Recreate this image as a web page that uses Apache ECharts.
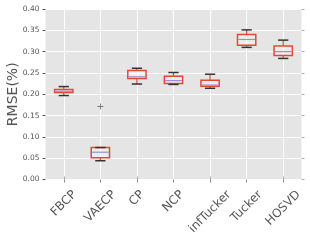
<!DOCTYPE html>
<html>
<head>
<meta charset="utf-8">
<script src="https://cdn.jsdelivr.net/npm/echarts@6/dist/echarts.min.js"></script>
<style>
html,body{margin:0;padding:0;background:#fff;}
#c{width:310px;height:249px;}
</style>
</head>
<body>
<div id="c"></div>
<script>
const categories = ['FBCP','VAECP','CP','NCP','infTucker','Tucker','HOSVD'];
const whiskerLow  = [0.197, 0.044, 0.224, 0.223, 0.214, 0.310, 0.284];
const q1          = [0.204, 0.051, 0.237, 0.2255, 0.219, 0.315, 0.291];
const median      = [0.207, 0.064, 0.241, 0.232, 0.2215, 0.3285, 0.300];
const q3          = [0.211, 0.075, 0.256, 0.242, 0.233, 0.340, 0.313];
const whiskerHigh = [0.218, 0.075, 0.261, 0.251, 0.247, 0.351, 0.327];
const outlierCat  = ['VAECP'];
const outlierVal  = [0.171];
const yTicks = [0.00,0.05,0.10,0.15,0.20,0.25,0.30,0.35,0.40];

const FONT = '"DejaVu Sans", sans-serif';
const LABEL_SIZE = 12;
const LABEL_MARGIN = -8;
const LABEL_DROP = 21.2;   // vertical drop of the label end below the anchor
const cv = document.createElement('canvas').getContext('2d');
cv.font = LABEL_SIZE + 'px ' + FONT;
// emulate matplotlib's centred 45deg labels: shift each label so its rotated box is centred on the tick
const rich = {};
categories.forEach(function (c, i) {
  const L = cv.measureText(c).width;
  const R = Math.max(0, 0.7071 * LABEL_DROP - 0.25 * L);
  const T = 0.5 * L + 1.4142 * LABEL_DROP;
  rich['l' + i] = { fontSize: LABEL_SIZE, fontFamily: FONT, color: '#555', padding: [T, R, 0, 0] };
});

const boxData = categories.map(function (c, i) {
  return [i, whiskerLow[i], q1[i], median[i], q3[i], whiskerHigh[i]];
});
const outData = outlierCat.map(function (c, k) { return [categories.indexOf(c), outlierVal[k]]; });

const chart = echarts.init(document.getElementById('c'), null, {renderer: 'canvas'});
chart.setOption({
  animation: false,
  backgroundColor: '#fff',
  grid: { left: 45.5, right: 8.5, top: 9, bottom: 69.5, show: true, backgroundColor: '#E5E5E5', borderWidth: 0,
    containLabel: false, outerBoundsMode: 'none' },
  xAxis: [{
    type: 'category', data: categories, boundaryGap: true,
    axisLine: { show: false },
    axisTick: { show: true, alignWithLabel: true, length: 3, lineStyle: { color: '#888' } },
    splitLine: { show: true, alignWithLabel: true, lineStyle: { color: '#fff', width: 1 } },
    axisLabel: { interval: 0, rotate: 45, margin: LABEL_MARGIN, hideOverlap: false,
      fontSize: LABEL_SIZE, fontFamily: FONT, color: '#555',
      formatter: function (v, idx) { return '{l' + categories.indexOf(v) + '|' + v + '}'; },
      rich: rich }
  }, {
    type: 'category', data: categories, position: 'top', boundaryGap: true,
    axisLine: { show: false },
    axisTick: { show: true, alignWithLabel: true, length: 3, lineStyle: { color: '#aaa' } },
    axisLabel: { show: false }, splitLine: { show: false }
  }],
  yAxis: [{
    type: 'value', min: yTicks[0], max: yTicks[yTicks.length-1], interval: 0.05,
    name: 'RMSE(%)', nameLocation: 'middle', nameGap: 25, nameRotate: 90, nameMoveOverlap: false,
    nameTextStyle: { fontSize: 14, fontFamily: FONT, color: '#555' },
    axisLine: { show: false },
    axisTick: { show: true, length: 3, lineStyle: { color: '#555' } },
    splitLine: { show: true, lineStyle: { color: '#fff', width: 1 } },
    axisLabel: { fontSize: 7.5, fontFamily: FONT, color: '#555', margin: 6,
      formatter: function (v) { return v.toFixed(2); } }
  }, {
    type: 'value', position: 'right', min: yTicks[0], max: yTicks[yTicks.length-1], interval: 0.05,
    axisLine: { show: false },
    axisTick: { show: true, length: 3, lineStyle: { color: '#aaa' } },
    splitLine: { show: false }, axisLabel: { show: false }
  }],
  series: [{
    type: 'custom',
    xAxisIndex: 0, yAxisIndex: 0,
    data: boxData,
    renderItem: function (params, api) {
      const i = api.value(0);
      const band = api.size([1, 0])[0];
      const half = band * 0.25;
      const cap = band * 0.14;
      const pLo = api.coord([i, api.value(1)]);
      const pQ1 = api.coord([i, api.value(2)]);
      const pMed = api.coord([i, api.value(3)]);
      const pQ3 = api.coord([i, api.value(4)]);
      const pHi = api.coord([i, api.value(5)]);
      const cx = pMed[0];
      const red = '#E24A33';
      return { type: 'group', children: [
        { type: 'rect', shape: { x: cx - half, y: pQ3[1], width: 2*half, height: pQ1[1] - pQ3[1] },
          style: { fill: 'rgba(255,255,255,0.3)', stroke: red, lineWidth: 1.5 } },
        { type: 'line', shape: { x1: cx, y1: pQ3[1], x2: cx, y2: pHi[1] }, style: { stroke: red, lineWidth: 1.2 } },
        { type: 'line', shape: { x1: cx, y1: pQ1[1], x2: cx, y2: pLo[1] }, style: { stroke: red, lineWidth: 1.2 } },
        { type: 'line', shape: { x1: cx - cap, y1: pHi[1], x2: cx + cap, y2: pHi[1] }, style: { stroke: '#333', lineWidth: 1.5 } },
        { type: 'line', shape: { x1: cx - cap, y1: pLo[1], x2: cx + cap, y2: pLo[1] }, style: { stroke: '#333', lineWidth: 1.5 } },
        { type: 'line', shape: { x1: cx - half + 0.75, y1: pMed[1], x2: cx + half - 0.75, y2: pMed[1] }, style: { stroke: '#988ED5', lineWidth: 1.2 } }
      ]};
    }
  }, {
    type: 'scatter', xAxisIndex: 0, yAxisIndex: 0,
    data: outData,
    symbol: 'path://M4.4,0h1.2v4.4h4.4v1.2h-4.4v4.4h-1.2v-4.4h-4.4v-1.2h4.4z',
    symbolSize: 6,
    itemStyle: { color: '#333' }
  }]
});
</script>
</body>
</html>
